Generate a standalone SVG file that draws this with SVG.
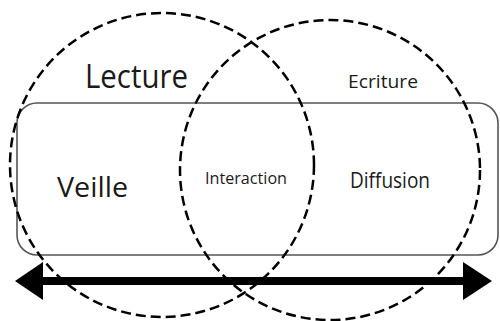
<svg xmlns="http://www.w3.org/2000/svg" width="500" height="321" viewBox="0 0 500 321">
<style>
.circ{fill:none;stroke:#000;stroke-width:2.5;stroke-dasharray:10 5}
.box{fill:none;stroke:#555;stroke-width:1.6}
.lbl{font-family:"Open Sans","Liberation Sans",sans-serif;fill:#1a1a1a}
</style>
<rect width="500" height="321" fill="#fff"/>
<g id="box-region"><rect class="box" x="17" y="103" width="481" height="152" rx="20"/></g>
<g id="circle-lecture"><circle class="circ" cx="162" cy="165" r="152"/></g>
<g id="circle-ecriture"><circle class="circ" cx="330" cy="170" r="150"/></g>
<g id="connectors">
<line x1="40" y1="281" x2="466" y2="281" stroke="#000" stroke-width="8"/>
<polygon points="15,281 43,262 43,300" fill="#000"/>
<polygon points="492,281 463,262 463,300" fill="#000"/>
</g>
<g id="lecture"><text class="lbl" x="85" y="88" font-size="33" textLength="103" lengthAdjust="spacingAndGlyphs">Lecture</text></g>
<g id="ecriture"><text class="lbl" x="348" y="88" font-size="19" textLength="70" lengthAdjust="spacingAndGlyphs">Ecriture</text></g>
<g id="veille"><text class="lbl" x="57" y="197" font-size="27" textLength="71" lengthAdjust="spacingAndGlyphs">Veille</text></g>
<g id="interaction"><text class="lbl" x="205" y="184" font-size="16" textLength="82" lengthAdjust="spacingAndGlyphs">Interaction</text></g>
<g id="diffusion"><text class="lbl" x="350" y="188" font-size="21" textLength="80" lengthAdjust="spacingAndGlyphs">Diffusion</text></g>
</svg>
